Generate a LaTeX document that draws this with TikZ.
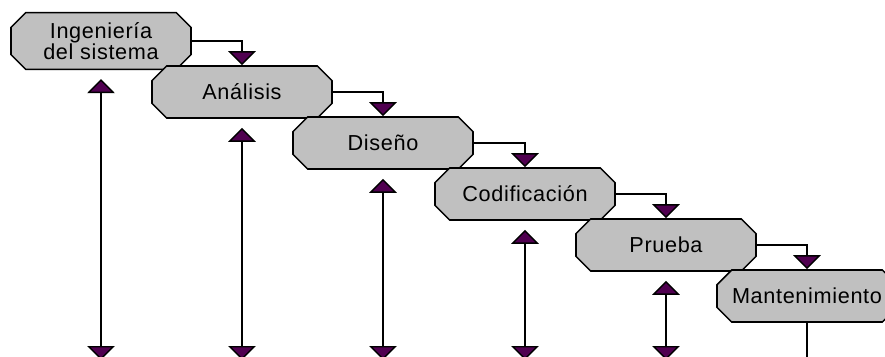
\documentclass[tikz,border=0pt]{standalone}
\usepackage{fontspec}
\setmainfont[LetterSpace=3]{Liberation Sans}
\usetikzlibrary{arrows.meta}
\usetikzlibrary{shapes.misc}

\definecolor{boxgray}{RGB}{192,192,192}
\definecolor{tippurple}{RGB}{80,0,80}

\tikzset{
  stage/.style={chamfered rectangle, chamfered rectangle xsep=0.22cm,
    chamfered rectangle ysep=0.22cm, draw, line width=1.3pt, fill=boxgray,
    minimum width=5.4cm, minimum height=1.56cm, inner sep=2pt, align=center,
    font=\fontsize{18.5}{18}\selectfont},
  flow/.style={line width=1.2pt, -{Triangle[width=0.82cm,length=0.42cm,fill=tippurple]}},
  span/.style={line width=1.2pt,
    {Triangle[width=0.82cm,length=0.42cm,fill=tippurple]}-{Triangle[width=0.82cm,length=0.42cm,fill=tippurple]},
    shorten <=0.27cm},
}

\begin{document}
\begin{tikzpicture}[x=0.03cm, y=-0.03cm]
    \clip (0,0) rectangle (885,356);

    \node [stage] (ing) at (101,41) {Ingenier\'ia\\del sistema};
    \node [stage] (ana) at (242,92) {An\'alisis};
    \node [stage] (dis) at (383,143) {Dise\~no};
    \node [stage] (cod) at (525,194) {Codificaci\'on};
    \node [stage] (pru) at (666,245) {Prueba};
    \node [stage] (man) at (807,296) {Mantenimiento};

    \coordinate (base) at (0,360); % bottom edge, tips run past it

    \draw [flow] (ing.east) -| (ana.north);
    \draw [flow] (ana.east) -| (dis.north);
    \draw [flow] (dis.east) -| (cod.north);
    \draw [flow] (cod.east) -| (pru.north);
    \draw [flow] (pru.east) -| (man.north);

    \draw [span] (ing.south) -- (ing.south |- base);
    \draw [span] (ana.south) -- (ana.south |- base);
    \draw [span] (dis.south) -- (dis.south |- base);
    \draw [span] (cod.south) -- (cod.south |- base);
    \draw [span] (pru.south) -- (pru.south |- base);
    \draw [line width=1.2pt] (man.south) -- (man.south |- base);
  \end{tikzpicture}
\end{document}
